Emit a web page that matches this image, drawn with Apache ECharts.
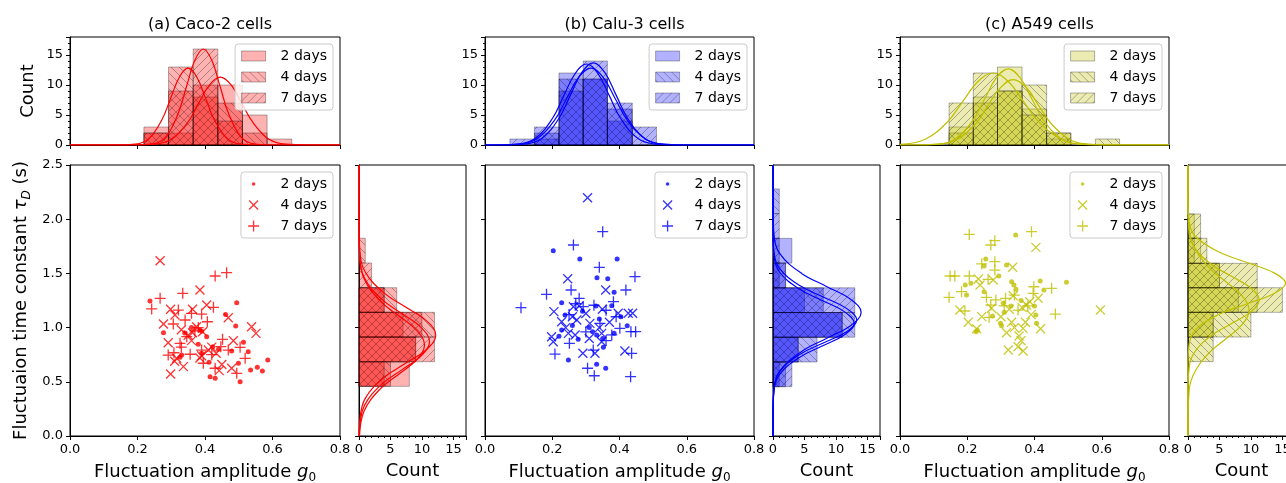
<!DOCTYPE html>
<html>
<head>
<meta charset="utf-8">
<script src="https://cdn.jsdelivr.net/npm/echarts@6.0.0/dist/echarts.min.js"></script>
<style>
  html, body { margin: 0; padding: 0; background: #fff; }
  #chart { width: 1286px; height: 483px; }
</style>
</head>
<body>
<div id="chart"></div>
<script>
// ---- top histograms (x = amplitude g0, counts per bin) ----
const topEdgesA = [0.219, 0.292, 0.365, 0.438, 0.511, 0.584, 0.657];
const topA2 = [3, 2, 8, 10, 5, 1];
const topA4 = [2, 13, 10, 7, 2, 0];
const topA7 = [2, 9, 16, 4, 0, 0];

const topEdgesB = [0.074, 0.147, 0.220, 0.292, 0.364, 0.438, 0.510];
const topB2 = [0, 1, 12, 11, 4, 0];
const topB4 = [0, 2, 11, 11, 6, 0];
const topB7 = [1, 3, 9, 14, 7, 3];

const topEdgesC = [0.146, 0.218, 0.290, 0.363, 0.436, 0.508, 0.581, 0.653];
const topC2 = [3, 8, 13, 6, 1, 0, 0];
const topC4 = [2, 7, 9, 10, 2, 0, 1];
const topC7 = [7, 12, 9, 5, 2, 0, 0];

// ---- side histograms (y = tau_D, counts per bin) ----
const sideEdgesA = [0.458, 0.685, 0.913, 1.141, 1.368, 1.596, 1.824];
const sideA2 = [8, 9, 7, 4, 0, 0];
const sideA4 = [5, 9, 12, 6, 0, 1];
const sideA7 = [4, 12, 10, 4, 2, 0];

const sideEdgesB = [0.455, 0.683, 0.911, 1.139, 1.367, 1.595, 1.823, 2.051, 2.279];
const sideB2 = [1, 4, 11, 5, 2, 3, 0, 0];
const sideB4 = [2, 7, 13, 8, 1, 0, 0, 1];
const sideB7 = [3, 4, 11, 13, 2, 1, 1, 0];

const sideEdgesC = [0.686, 0.913, 1.141, 1.368, 1.593, 1.824, 2.048];
const sideC2 = [0, 4, 11, 5, 2, 1];
const sideC4 = [4, 10, 8, 5, 1, 0];
const sideC7 = [0, 4, 15, 11, 3, 2];

// ---- fitted curves: top [g0, count] ----
const fitTopA2 = [[0,0],[0.185,0],[0.250,0.13],[0.299,0.90],[0.348,3.67],[0.380,6.85],[0.413,9.97],[0.445,11.3],[0.478,9.97],[0.510,6.85],[0.543,3.67],[0.591,0.90],[0.640,0.13],[0.705,0],[0.8,0]];
const fitTopA4 = [[0,0],[0.142,0],[0.194,0.14],[0.233,1.02],[0.272,4.16],[0.298,7.76],[0.324,11.30],[0.350,12.8],[0.376,11.30],[0.402,7.76],[0.428,4.16],[0.467,1.02],[0.506,0.14],[0.558,0],[0.8,0]];
const fitTopA7 = [[0,0],[0.195,0],[0.245,0.18],[0.283,1.27],[0.320,5.20],[0.345,9.70],[0.370,14.12],[0.395,16],[0.420,14.12],[0.445,9.70],[0.470,5.20],[0.508,1.27],[0.545,0.18],[0.595,0],[0.8,0]];
const fitTopB2 = [[0,0],[0.030,0],[0.098,0.15],[0.149,1.07],[0.200,4.38],[0.234,8.19],[0.268,11.91],[0.302,13.5],[0.336,11.91],[0.370,8.19],[0.404,4.38],[0.455,1.07],[0.506,0.15],[0.574,0],[0.8,0]];
const fitTopB4 = [[0,0],[0.050,0],[0.118,0.15],[0.169,1.09],[0.220,4.45],[0.254,8.31],[0.288,12.09],[0.322,13.7],[0.356,12.09],[0.390,8.31],[0.424,4.45],[0.475,1.09],[0.526,0.15],[0.594,0],[0.8,0]];
const fitTopB7 = [[0,0],[0.027,0],[0.099,0.14],[0.153,1.02],[0.207,4.16],[0.243,7.76],[0.279,11.30],[0.315,12.8],[0.351,11.30],[0.387,7.76],[0.423,4.16],[0.477,1.02],[0.531,0.14],[0.603,0],[0.8,0]];
const fitTopC2 = [[0,0],[0.042,0],[0.112,0.14],[0.165,1.01],[0.217,4.12],[0.252,7.70],[0.287,11.21],[0.322,12.7],[0.357,11.21],[0.392,7.70],[0.427,4.12],[0.480,1.01],[0.532,0.14],[0.602,0],[0.8,0]];
const fitTopC4 = [[0,0.10],[0.075,0.96],[0.142,3.90],[0.187,7.28],[0.232,10.59],[0.277,12.0],[0.322,10.59],[0.367,7.28],[0.412,3.90],[0.480,0.96],[0.547,0.13],[0.637,0],[0.8,0]];
const fitTopC7 = [[0,0],[0.037,0],[0.112,0.12],[0.168,0.87],[0.225,3.54],[0.262,6.61],[0.300,9.62],[0.337,10.9],[0.375,9.62],[0.412,6.61],[0.450,3.54],[0.506,0.87],[0.562,0.12],[0.637,0],[0.8,0]];

// ---- fitted curves: side [count, tau] ----
const fitSideA2 = [[0.02,0],[0.14,0.15],[0.97,0.345],[3.96,0.54],[7.40,0.67],[10.77,0.80],[12.2,0.93],[10.77,1.06],[7.40,1.19],[3.96,1.32],[0.97,1.515],[0.14,1.71],[0,1.97],[0,2.5]];
const fitSideA4 = [[0.04,0],[0.12,0.09],[0.89,0.285],[3.64,0.48],[6.79,0.61],[9.88,0.74],[11.2,0.87],[9.88,1.00],[6.79,1.13],[3.64,1.26],[0.89,1.455],[0.12,1.65],[0,1.91],[0,2.5]];
const fitSideA7 = [[0.08,0],[0.83,0.232],[3.38,0.435],[6.31,0.57],[9.18,0.705],[10.4,0.84],[9.18,0.975],[6.31,1.11],[3.38,1.245],[0.83,1.448],[0.12,1.65],[0,1.92],[0,2.5]];
const fitSideB2 = [[0,0],[0,0.18],[0.16,0.42],[1.11,0.60],[4.55,0.78],[8.49,0.90],[12.36,1.02],[14.0,1.14],[12.36,1.26],[8.49,1.38],[4.55,1.50],[1.11,1.68],[0.16,1.86],[0,2.1],[0,2.5]];
const fitSideB4 = [[0,0],[0,0.23],[0.15,0.44],[1.06,0.597],[4.32,0.755],[8.07,0.86],[11.74,0.965],[13.3,1.07],[11.74,1.175],[8.07,1.28],[4.32,1.385],[1.06,1.543],[0.15,1.70],[0,1.91],[0,2.5]];
const fitSideB7 = [[0,0],[0,0.2],[0.14,0.41],[1.03,0.567],[4.19,0.725],[7.82,0.83],[11.38,0.935],[12.9,1.04],[11.38,1.145],[7.82,1.25],[4.19,1.355],[1.03,1.513],[0.14,1.67],[0,1.88],[0,2.5]];
const fitSideC2 = [[0,0],[0,0.65],[0.17,0.84],[1.23,0.982],[5.03,1.125],[9.40,1.22],[13.68,1.315],[15.5,1.41],[13.68,1.505],[9.40,1.60],[5.03,1.695],[1.23,1.838],[0.17,1.98],[0,2.17],[0,2.5]];
const fitSideC4 = [[0,0],[0,0.375],[0.13,0.595],[0.90,0.76],[3.67,0.925],[6.85,1.035],[9.97,1.145],[11.3,1.255],[9.97,1.365],[6.85,1.475],[3.67,1.585],[0.90,1.75],[0.13,1.915],[0,2.135],[0,2.5]];
const fitSideC7 = [[0,0],[0.11,0.35],[0.77,0.553],[3.15,0.755],[5.88,0.89],[8.56,1.025],[9.7,1.16],[8.56,1.295],[5.88,1.43],[3.15,1.565],[0.77,1.768],[0.11,1.97],[0,2.24],[0,2.5]];

// ---- scatter points [g0, tau_D] ----
const ptsA2 = [[0.237,1.245],[0.494,1.230],[0.461,1.122],[0.491,1.015],[0.385,0.978],[0.277,0.953],[0.380,0.846],[0.423,0.824],[0.514,0.864],[0.390,0.763],[0.528,0.778],[0.479,0.784],[0.326,0.726],[0.499,0.671],[0.586,0.701],[0.555,0.634],[0.570,0.600],[0.535,0.609],[0.415,0.547],[0.430,0.532],[0.504,0.501],[0.405,0.916],[0.390,0.967],[0.340,0.950],[0.360,1.000],[0.331,0.747],[0.440,0.800],[0.412,0.680]];
const ptsA4 = [[0.267,1.617],[0.385,1.347],[0.405,1.208],[0.298,1.169],[0.363,1.169],[0.311,1.116],[0.469,1.091],[0.277,1.033],[0.538,1.008],[0.551,0.947],[0.375,1.008],[0.363,0.953],[0.393,0.962],[0.291,0.861],[0.484,0.879],[0.410,0.793],[0.433,0.763],[0.385,0.720],[0.316,0.717],[0.336,0.640],[0.442,0.603],[0.479,0.625],[0.298,0.572],[0.350,0.930],[0.330,0.980],[0.420,0.820],[0.360,0.880],[0.310,0.690],[0.390,0.740],[0.450,0.660]];
const ptsA7 = [[0.430,1.476],[0.464,1.507],[0.334,1.316],[0.267,1.270],[0.242,1.172],[0.425,1.187],[0.321,1.162],[0.360,1.132],[0.390,1.125],[0.306,1.033],[0.341,1.070],[0.407,1.054],[0.346,0.916],[0.326,0.855],[0.452,0.892],[0.504,0.818],[0.447,0.824],[0.390,0.793],[0.469,0.793],[0.308,0.768],[0.291,0.747],[0.356,0.754],[0.519,0.717],[0.395,0.671],[0.430,0.625],[0.494,0.578],[0.370,0.970],[0.380,1.000],[0.330,0.820],[0.420,0.750]];
const ptsB2 = [[0.203,1.710],[0.282,1.633],[0.393,1.633],[0.333,1.461],[0.365,1.451],[0.384,1.326],[0.228,1.230],[0.377,1.202],[0.404,1.101],[0.238,1.116],[0.228,0.978],[0.277,0.892],[0.320,0.962],[0.332,0.932],[0.352,0.818],[0.384,0.947],[0.423,1.018],[0.248,0.701],[0.332,0.661],[0.359,0.625],[0.290,1.150],[0.330,1.200],[0.260,1.020],[0.310,1.000],[0.340,1.080],[0.220,0.920],[0.350,0.900]];
const ptsB4 = [[0.305,2.198],[0.246,1.451],[0.359,1.347],[0.205,1.147],[0.263,1.193],[0.349,1.169],[0.396,1.132],[0.426,1.132],[0.439,1.132],[0.228,1.054],[0.273,1.070],[0.312,1.039],[0.198,0.916],[0.203,0.870],[0.248,0.947],[0.268,0.932],[0.347,0.947],[0.347,0.870],[0.291,0.763],[0.327,0.763],[0.416,0.784],[0.300,1.130],[0.340,1.000],[0.260,1.100],[0.310,0.900],[0.370,1.050],[0.240,1.000],[0.280,1.200]];
const ptsB7 = [[0.350,1.885],[0.263,1.762],[0.340,1.556],[0.446,1.470],[0.183,1.307],[0.256,1.347],[0.419,1.347],[0.107,1.184],[0.280,1.270],[0.382,1.239],[0.292,1.193],[0.324,1.206],[0.342,1.039],[0.401,0.993],[0.251,0.855],[0.377,0.932],[0.434,0.962],[0.448,0.962],[0.322,0.793],[0.436,0.763],[0.208,0.756],[0.305,0.625],[0.325,0.556],[0.433,0.547],[0.360,1.160],[0.270,1.220],[0.390,1.100],[0.300,0.960],[0.360,0.880],[0.250,1.120]];
const ptsC2 = [[0.344,1.854],[0.255,1.633],[0.250,1.568],[0.317,1.578],[0.294,1.476],[0.211,1.408],[0.194,1.393],[0.495,1.418],[0.417,1.430],[0.332,1.424],[0.339,1.393],[0.345,1.353],[0.428,1.347],[0.198,1.301],[0.307,1.224],[0.310,1.141],[0.404,1.116],[0.275,1.107],[0.299,1.039],[0.302,1.018],[0.406,1.039],[0.226,0.962],[0.230,0.975],[0.360,1.250],[0.330,1.200],[0.400,1.200],[0.250,1.330]];
const ptsC4 = [[0.404,1.740],[0.335,1.556],[0.233,1.448],[0.238,1.393],[0.277,1.439],[0.337,1.294],[0.411,1.270],[0.386,1.239],[0.178,1.162],[0.272,1.178],[0.325,1.169],[0.363,1.184],[0.376,1.208],[0.596,1.162],[0.203,1.049],[0.243,1.101],[0.332,1.049],[0.373,1.049],[0.228,0.990],[0.317,0.953],[0.340,1.000],[0.366,0.993],[0.418,0.990],[0.354,0.922],[0.322,0.793],[0.351,0.824],[0.366,0.784],[0.360,0.880],[0.300,1.100],[0.390,1.120]];
const ptsC7 = [[0.206,1.860],[0.391,1.885],[0.282,1.802],[0.270,1.762],[0.243,1.587],[0.282,1.608],[0.282,1.531],[0.149,1.476],[0.163,1.476],[0.206,1.476],[0.262,1.445],[0.451,1.362],[0.398,1.377],[0.146,1.279],[0.183,1.331],[0.257,1.279],[0.285,1.255],[0.314,1.270],[0.396,1.316],[0.193,1.153],[0.270,1.208],[0.351,1.162],[0.462,1.125],[0.265,1.095],[0.310,1.200],[0.340,1.300],[0.380,1.200]];

const dayLabels = ['2 days', '4 days', '7 days'];
const xTicks = [0, 0.8, 0.2];
const tauTicks = [0, 2.5, 0.5];

const FONT = "'DejaVu Sans', sans-serif";
const W = 1286;

const panels = [
  { key: 'a', title: '(a) Caco-2 cells', rgb: '255,0,0', line: '#ff0000', x: 70, w: 270, sx: 359, sw: 107,
    topEdges: topEdgesA, top: [topA2, topA4, topA7], sideEdges: sideEdgesA, side: [sideA2, sideA4, sideA7],
    fitTop: [fitTopA2, fitTopA4, fitTopA7], fitSide: [fitSideA2, fitSideA4, fitSideA7], pts: [ptsA2, ptsA4, ptsA7] },
  { key: 'b', title: '(b) Calu-3 cells', rgb: '0,0,255', line: '#0000ff', x: 485, w: 269, sx: 773, sw: 107,
    topEdges: topEdgesB, top: [topB2, topB4, topB7], sideEdges: sideEdgesB, side: [sideB2, sideB4, sideB7],
    fitTop: [fitTopB2, fitTopB4, fitTopB7], fitSide: [fitSideB2, fitSideB4, fitSideB7], pts: [ptsB2, ptsB4, ptsB7] },
  { key: 'c', title: '(c) A549 cells', rgb: '191,191,0', line: '#bfbf00', x: 900, w: 269, sx: 1188, sw: 107,
    topEdges: topEdgesC, top: [topC2, topC4, topC7], sideEdges: sideEdgesC, side: [sideC2, sideC4, sideC7],
    fitTop: [fitTopC2, fitTopC4, fitTopC7], fitSide: [fitSideC2, fitSideC4, fitSideC7], pts: [ptsC2, ptsC4, ptsC7] }
];

const hatches = ['', '\\', '/'];
const markPaths = ['circle', 'path://M0,0L10,10M10,0L0,10', 'path://M5,0L5,10M0,5L10,5'];
const markSizes = [5, 9, 11];
const legendIcons = [
  'path://M0,0M12,12M4.2,6A1.8,1.8,0,1,0,7.8,6A1.8,1.8,0,1,0,4.2,6Z',
  'path://M0,0M12,12M1.5,1.5L10.5,10.5M10.5,1.5L1.5,10.5',
  'path://M0,0M12,12M6,0.5L6,11.5M0.5,6L11.5,6'
];

// translucent fill with optional hatch lines, used as a canvas pattern
function hatchFill(rgb, hatch) {
  const s = 8;
  const c = document.createElement('canvas');
  c.width = s; c.height = s;
  const g = c.getContext('2d');
  g.fillStyle = 'rgba(' + rgb + ',0.3)';
  g.fillRect(0, 0, s, s);
  if (hatch) {
    g.strokeStyle = 'rgba(0,0,0,0.3)';
    g.lineWidth = 1;
    g.beginPath();
    if (hatch === '/') {
      g.moveTo(-1, s + 1); g.lineTo(s + 1, -1);
      g.moveTo(-1, 1); g.lineTo(1, -1);
      g.moveTo(s - 1, s + 1); g.lineTo(s + 1, s - 1);
    } else {
      g.moveTo(-1, -1); g.lineTo(s + 1, s + 1);
      g.moveTo(s - 1, -1); g.lineTo(s + 1, 1);
      g.moveTo(-1, s - 1); g.lineTo(1, s + 1);
    }
    g.stroke();
  }
  return { image: c, repeat: 'repeat' };
}

function binsOf(edges, counts) {
  return counts.map((c, i) => [edges[i], edges[i + 1], c]);
}

function topBars(fill) {
  return function (params, api) {
    const c = api.value(2);
    if (!c) return null;
    const p0 = api.coord([api.value(0), c]);
    const p1 = api.coord([api.value(1), 0]);
    return { type: 'rect',
      shape: { x: p0[0], y: p0[1], width: p1[0] - p0[0], height: p1[1] - p0[1] },
      style: { fill: fill, stroke: 'rgba(0,0,0,0.3)', lineWidth: 1 } };
  };
}
function sideBars(fill) {
  return function (params, api) {
    const c = api.value(2);
    if (!c) return null;
    const p0 = api.coord([0, api.value(1)]);
    const p1 = api.coord([c, api.value(0)]);
    return { type: 'rect',
      shape: { x: p0[0], y: p0[1], width: p1[0] - p0[0], height: p1[1] - p0[1] },
      style: { fill: fill, stroke: 'rgba(0,0,0,0.3)', lineWidth: 1 } };
  };
}

const lbl = { color: '#000', fontSize: 13, fontFamily: FONT, margin: 7 };
const axLine = { show: true, lineStyle: { color: '#000', width: 1 } };
const axTick = { show: true, length: 4, lineStyle: { color: '#000', width: 1 } };
const minor = { show: true, splitNumber: 5, length: 2, lineStyle: { color: '#000', width: 1 } };
const noSplit = { show: false };

const gxName = '{n|Fluctuation amplitude }{g|g}{s|0}';
const gxRich = {
  n: { fontSize: 18, fontFamily: FONT, color: '#000', lineHeight: 24, verticalAlign: 'middle' },
  g: { fontSize: 18, fontFamily: FONT, fontStyle: 'italic', color: '#000', lineHeight: 24, verticalAlign: 'middle' },
  s: { fontSize: 12, fontFamily: FONT, color: '#000', lineHeight: 12, verticalAlign: 'bottom' }
};
const tauName = '{n|Fluctuaion time constant }{t|τ}{d|D}{n| (s)}';
const tauRich = {
  n: { fontSize: 18, fontFamily: FONT, color: '#000', lineHeight: 24, verticalAlign: 'middle' },
  t: { fontSize: 18, fontFamily: FONT, fontStyle: 'italic', color: '#000', lineHeight: 24, verticalAlign: 'middle' },
  d: { fontSize: 12, fontFamily: FONT, fontStyle: 'italic', color: '#000', lineHeight: 12, verticalAlign: 'bottom' }
};

const grid = [], xAxis = [], yAxis = [], series = [], legend = [], title = [];

panels.forEach((p, pi) => {
  const gi = pi * 3;
  const box = { show: true, borderColor: '#000', borderWidth: 1, backgroundColor: 'transparent',
    containLabel: false, outerBoundsMode: 'none' };
  grid.push(Object.assign({ left: p.x, top: 37, width: p.w, height: 108 }, box));
  grid.push(Object.assign({ left: p.x, top: 165, width: p.w, height: 271 }, box));
  grid.push(Object.assign({ left: p.sx, top: 165, width: p.sw, height: 271 }, box));

  title.push({ text: p.title, left: p.x + p.w / 2, top: 12, textAlign: 'center',
    textStyle: { fontSize: 16, fontWeight: 'normal', fontFamily: FONT, color: '#000' } });

  // top histogram axes
  xAxis.push({ gridIndex: gi, type: 'value', min: xTicks[0], max: xTicks[1], interval: xTicks[2],
    axisLine: axLine, axisTick: axTick, axisLabel: { show: false }, splitLine: noSplit });
  yAxis.push({ gridIndex: gi, type: 'value', min: 0, max: 18, interval: 5,
    axisLine: axLine, axisTick: axTick, minorTick: minor,
    axisLabel: Object.assign({ showMaxLabel: false }, lbl), splitLine: noSplit,
    name: pi === 0 ? 'Count' : '', nameLocation: 'middle', nameGap: 33,
    nameTextStyle: { fontSize: 18, fontFamily: FONT, color: '#000' } });
  // scatter axes
  xAxis.push({ gridIndex: gi + 1, type: 'value', min: xTicks[0], max: xTicks[1], interval: xTicks[2],
    axisLine: axLine, axisTick: axTick, splitLine: noSplit,
    axisLabel: Object.assign({ formatter: v => v.toFixed(1) }, lbl),
    name: gxName, nameLocation: 'middle', nameGap: 24, nameTextStyle: { rich: gxRich } });
  yAxis.push({ gridIndex: gi + 1, type: 'value', min: tauTicks[0], max: tauTicks[1], interval: tauTicks[2],
    axisLine: axLine, axisTick: axTick, splitLine: noSplit,
    axisLabel: Object.assign({ show: pi === 0, formatter: v => v.toFixed(1) }, lbl),
    name: pi === 0 ? tauName : '', nameLocation: 'middle', nameGap: 37, nameTextStyle: { rich: tauRich } });
  // side histogram axes
  xAxis.push({ gridIndex: gi + 2, type: 'value', min: 0, max: 17, interval: 5,
    axisLine: axLine, axisTick: axTick, minorTick: minor, splitLine: noSplit,
    axisLabel: Object.assign({ showMaxLabel: false }, lbl),
    name: 'Count', nameLocation: 'middle', nameGap: 26,
    nameTextStyle: { fontSize: 18, fontFamily: FONT, color: '#000' } });
  yAxis.push({ gridIndex: gi + 2, type: 'value', min: tauTicks[0], max: tauTicks[1], interval: tauTicks[2],
    axisLine: axLine, axisTick: axTick, axisLabel: { show: false }, splitLine: noSplit });

  const histLegend = [], ptsLegend = [];
  dayLabels.forEach((d, di) => {
    const fill = hatchFill(p.rgb, hatches[di]);
    const hName = p.key + '-hist|' + d;
    const sName = p.key + '-pts|' + d;
    series.push({ name: hName, type: 'custom', xAxisIndex: gi, yAxisIndex: gi, z: 2,
      itemStyle: { color: fill, borderColor: 'rgba(0,0,0,0.3)', borderWidth: 1 },
      renderItem: topBars(fill), data: binsOf(p.topEdges, p.top[di]), silent: true });
    series.push({ name: p.key + '-side|' + d, type: 'custom', xAxisIndex: gi + 2, yAxisIndex: gi + 2, z: 2,
      renderItem: sideBars(fill), data: binsOf(p.sideEdges, p.side[di]), silent: true });
    series.push({ name: p.key + '-fittop|' + d, type: 'line', xAxisIndex: gi, yAxisIndex: gi, z: 3,
      data: p.fitTop[di], smooth: 0.4, showSymbol: false, silent: true,
      lineStyle: { color: p.line, width: 1.2 } });
    series.push({ name: p.key + '-fitside|' + d, type: 'line', xAxisIndex: gi + 2, yAxisIndex: gi + 2, z: 3,
      data: p.fitSide[di], smooth: 0.4, showSymbol: false, silent: true,
      lineStyle: { color: p.line, width: 1.2 } });
    series.push({ name: sName, type: 'scatter', xAxisIndex: gi + 1, yAxisIndex: gi + 1, z: 3,
      symbol: markPaths[di], symbolSize: markSizes[di], silent: true,
      itemStyle: di === 0 ? { color: p.line } : { color: p.line, borderColor: p.line, borderWidth: 1.3 },
      data: p.pts[di] });
    histLegend.push({ name: hName, icon: 'rect',
      itemStyle: { color: fill, borderColor: 'rgba(0,0,0,0.3)', borderWidth: 1 } });
    ptsLegend.push({ name: sName, icon: legendIcons[di],
      itemStyle: di === 0 ? { color: p.line, borderWidth: 0 } : { color: p.line, borderColor: p.line, borderWidth: 1.3 } });
  });

  const legBase = {
    orient: 'vertical', right: W - (p.x + p.w - 7), itemWidth: 24, itemGap: 7,
    padding: [5, 6, 5, 6], borderColor: '#cccccc', borderWidth: 1, borderRadius: 3,
    backgroundColor: 'rgba(255,255,255,0.8)', selectedMode: false,
    formatter: n => n.split('|')[1],
    textStyle: { fontSize: 14, fontFamily: FONT, color: '#000', padding: [0, 0, 0, 10] }
  };
  legend.push(Object.assign({}, legBase, { top: 44, itemHeight: 10, data: histLegend }));
  legend.push(Object.assign({}, legBase, { top: 172, itemHeight: 12, data: ptsLegend }));
});

const chart = echarts.init(document.getElementById('chart'), null, { renderer: 'canvas' });
chart.setOption({
  animation: false,
  backgroundColor: '#fff',
  title: title,
  grid: grid,
  xAxis: xAxis,
  yAxis: yAxis,
  legend: legend,
  series: series
});
</script>
</body>
</html>
